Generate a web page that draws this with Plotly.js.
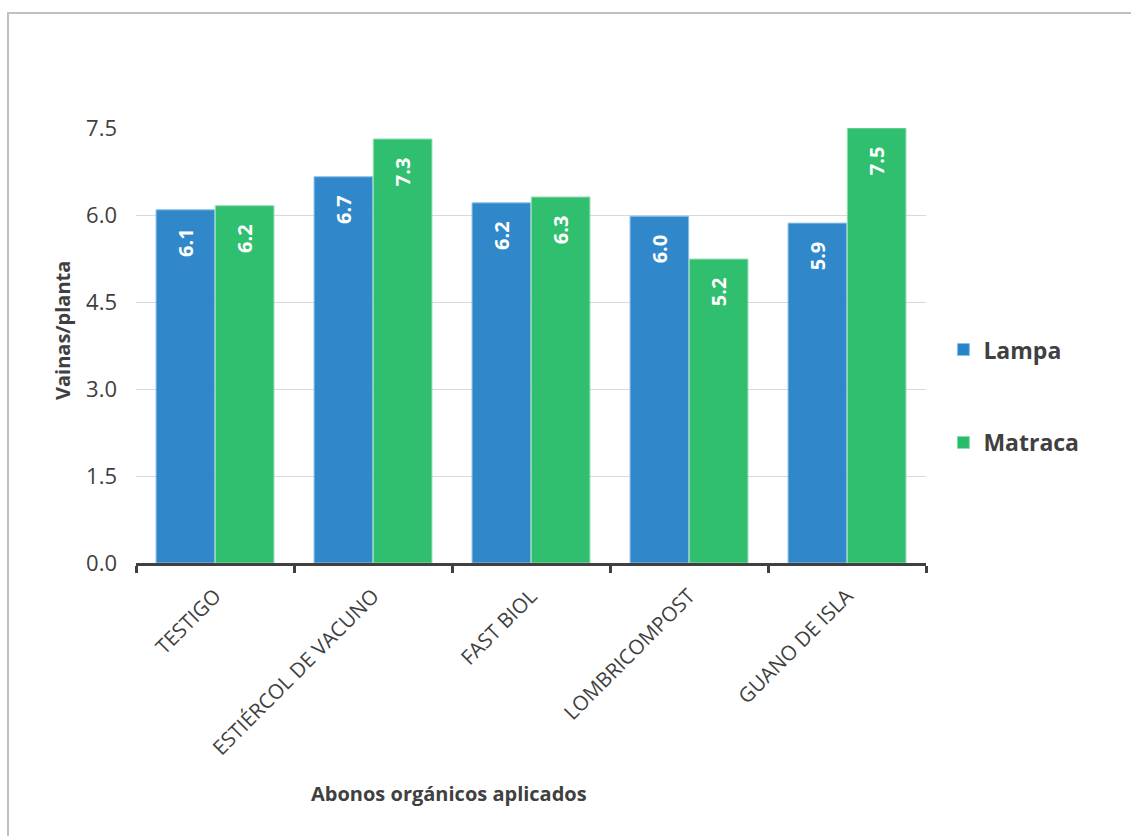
<!DOCTYPE html>
<html>
<head>
<meta charset="utf-8">
<script src="https://cdn.plot.ly/plotly-3.0.1.min.js"></script>
<style>
  html, body { margin: 0; padding: 0; background: #fff; }
  #wrap { position: relative; width: 1131px; height: 836px; overflow: hidden; }
  #chart { width: 1131px; height: 836px; }
  #frame { position: absolute; left: 7px; top: 12px; right: -4px; bottom: -4px;
           border-left: 2px solid #c0c0c0; border-top: 2px solid #c0c0c0; pointer-events: none; }
</style>
</head>
<body>
<div id="wrap">
  <div id="chart"></div>
  <div id="frame"></div>
</div>
<script>
// Pods per plant by organic fertilizer and variety
const categories = ["TESTIGO", "ESTIÉRCOL DE VACUNO", "FAST BIOL", "LOMBRICOMPOST", "GUANO DE ISLA"];
const lampa   = [6.09, 6.66, 6.21, 5.98, 5.86];
const matraca = [6.16, 7.31, 6.31, 5.24, 7.5];
const yTicks  = [0, 1.5, 3, 4.5, 6, 7.5];

const font = "'Open Sans', 'DejaVu Sans', sans-serif";
const ink = "#404040";

function barTrace(name, values, fill, edge, group) {
  return {
    type: "bar",
    name: name,
    x: categories,
    y: values,
    legendgroup: group,
    marker: { color: fill, opacity: 0.96, line: { color: edge, width: 1 } },
    texttemplate: "%{y:.1f}\u00a0\u00a0\u00a0",
    textposition: "inside",
    insidetextanchor: "end",
    textangle: -90,
    constraintext: "none",
    textfont: { family: font, size: 20, color: "#ffffff", weight: "bold" },
    hoverinfo: "skip"
  };
}

const data = [
  barTrace("Lampa", lampa, "#2884c9", "#8cc0e6", "a"),
  barTrace("Matraca", matraca, "#28bc6a", "#8fdcae", "b")
];

const layout = {
  width: 1131,
  height: 836,
  margin: { l: 136, r: 205, t: 128, b: 273 },
  paper_bgcolor: "#ffffff",
  plot_bgcolor: "#ffffff",
  font: { family: font, color: ink },
  barmode: "group",
  bargap: 0.25,
  bargroupgap: 0.01,
  showlegend: true,
  legend: {
    x: 1.022, xanchor: "left",
    y: 0.54, yanchor: "top",
    font: { family: font, size: 23, color: ink, weight: "bold" },
    tracegroupgap: 60,
    itemwidth: 30
  },
  xaxis: {
    type: "category",
    tickangle: -45,
    tickfont: { family: font, size: 20.5, color: ink },
    ticklabelstandoff: 10,
    showline: true,
    linecolor: "#404040",
    linewidth: 3,
    ticks: "outside",
    tickson: "boundaries",
    ticklen: 7,
    tickwidth: 3,
    tickcolor: "#404040",
    showgrid: false,
    zeroline: false
  },
  yaxis: {
    range: [0, 7.5],
    tickvals: yTicks,
    ticktext: yTicks.map(v => v.toFixed(1)),
    tickfont: { family: font, size: 22, color: ink },
    ticklabelstandoff: 18,
    showgrid: true,
    gridcolor: "#d9d9d9",
    gridwidth: 1,
    zeroline: false,
    showline: false
  },
  annotations: [
    {
      text: "Abonos orgánicos aplicados",
      xref: "paper", yref: "paper",
      x: (449 - 136) / 790, y: -(793 - 563) / 435,
      xanchor: "center", yanchor: "middle",
      showarrow: false,
      font: { family: font, size: 20, color: ink, weight: "bold" }
    },
    {
      text: "Vainas/planta",
      xref: "paper", yref: "paper",
      x: -(136 - 62) / 790, y: (563 - 331) / 435,
      xanchor: "center", yanchor: "middle",
      textangle: -90,
      showarrow: false,
      font: { family: font, size: 20, color: ink, weight: "bold" }
    }
  ]
};

Plotly.newPlot("chart", data, layout, { displayModeBar: false, staticPlot: true });
</script>
</body>
</html>
